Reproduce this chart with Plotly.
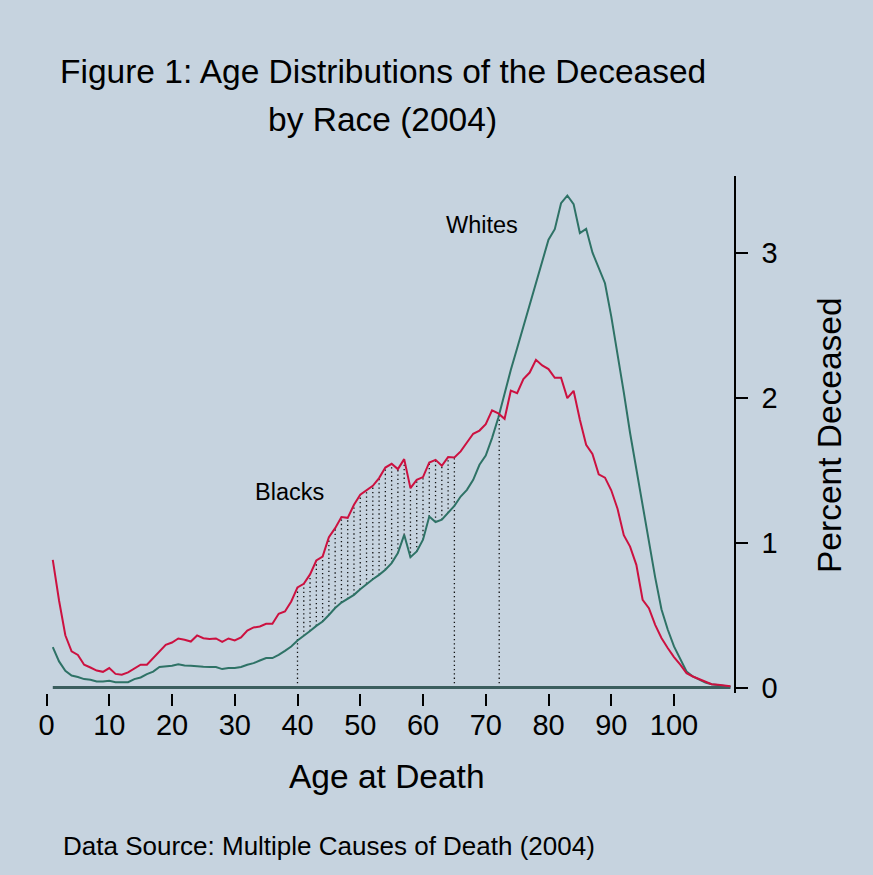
import numpy as np
import plotly.graph_objects as go

# Age at death (years)
ages = list(range(1, 110))

# Percent of deceased at each age, 2004
blacks = [
    0.88, 0.60, 0.36, 0.25, 0.225, 0.157, 0.138, 0.117, 0.108, 0.134,
    0.094, 0.088, 0.104, 0.129, 0.157, 0.157, 0.203, 0.248, 0.294, 0.31,
    0.338, 0.329, 0.317, 0.359, 0.34, 0.334, 0.338, 0.315, 0.338, 0.324,
    0.345, 0.393, 0.414, 0.421, 0.439, 0.439, 0.508, 0.524, 0.593, 0.69,
    0.715, 0.78, 0.876, 0.903, 1.037, 1.099, 1.175, 1.170, 1.26, 1.329,
    1.363, 1.391, 1.444, 1.517, 1.543, 1.506, 1.575, 1.375, 1.432, 1.451,
    1.552, 1.570, 1.529, 1.589, 1.586, 1.628, 1.69, 1.75, 1.772, 1.816,
    1.912, 1.89, 1.853, 2.048, 2.030, 2.127, 2.172, 2.26, 2.221, 2.196,
    2.136, 2.136, 1.996, 2.046, 1.846, 1.674, 1.61, 1.47, 1.447, 1.36,
    1.233, 1.05, 0.972, 0.846, 0.605, 0.547, 0.432, 0.341, 0.272, 0.21,
    0.157, 0.099, 0.076, 0.058, 0.041, 0.023, 0.019, 0.012, 0.008,
]
whites = [
    0.279, 0.18, 0.115, 0.083, 0.072, 0.058, 0.053, 0.041, 0.041, 0.046,
    0.037, 0.035, 0.037, 0.058, 0.069, 0.092, 0.11, 0.141, 0.145, 0.15,
    0.161, 0.152, 0.15, 0.145, 0.143, 0.141, 0.141, 0.127, 0.134, 0.134,
    0.141, 0.157, 0.168, 0.186, 0.203, 0.203, 0.225, 0.253, 0.283, 0.324,
    0.355, 0.39, 0.425, 0.455, 0.50, 0.548, 0.586, 0.61, 0.639, 0.678,
    0.715, 0.747, 0.777, 0.812, 0.858, 0.927, 1.053, 0.899, 0.938, 1.019,
    1.179, 1.141, 1.157, 1.203, 1.253, 1.317, 1.363, 1.432, 1.536, 1.60,
    1.72, 1.86, 2.03, 2.191, 2.34, 2.49, 2.639, 2.789, 2.95, 3.088,
    3.161, 3.34, 3.393, 3.334, 3.134, 3.163, 3.0, 2.90, 2.788, 2.56,
    2.31, 2.035, 1.755, 1.50, 1.24, 0.99, 0.76, 0.54, 0.40, 0.283,
    0.20, 0.11, 0.076, 0.053, 0.034, 0.023, 0.017, 0.010, 0.006,
]

x_ticks = list(range(0, 101, 10))
y_ticks = [0, 1, 2, 3]

# Ages bounding the shaded (excess black mortality) band
band_start, band_end = 40, 65

BG = "#C6D3DF"
RED = "#CC1140"
GREEN = "#2E7266"
BASE = "#3B5E5E"
FONT = "Liberation Sans, Arial, Helvetica, sans-serif"

W, H = 873, 875
ML, MR, MT, MB = 43, 139, 176, 182
PW, PH = W - ML - MR, H - MT - MB


def px_x(px):
    return (px - ML) / PW


def px_y(py):
    return (H - MB - py) / PH


a = np.array(ages, dtype=float)
b = np.array(blacks)
w = np.array(whites)

# Dotted spikes between the two curves across the band; the two end spikes
# run down to zero.
sx, sy = [], []
for age in range(band_start, band_end + 1):
    i = ages.index(age)
    lo = 0.0 if age in (band_start, band_end) else w[i]
    sx += [age, age, None]
    sy += [lo, b[i], None]

# Age where the white curve first overtakes the black one after the band
diff = w - b
cross_age, cross_val = None, None
for i in range(ages.index(band_end), len(ages) - 1):
    if diff[i] < 0 <= diff[i + 1]:
        t = -diff[i] / (diff[i + 1] - diff[i])
        cross_age = a[i] + t * (a[i + 1] - a[i])
        cross_val = w[i] + t * (w[i + 1] - w[i])
        break
sx += [cross_age, cross_age, None]
sy += [0.0, cross_val, None]

fig = go.Figure()
fig.add_trace(go.Scatter(
    x=sx, y=sy, mode="lines",
    line=dict(color="#111111", width=1.3, dash="1.3px,3px"),
    hoverinfo="skip", showlegend=False,
))
fig.add_trace(go.Scatter(
    x=ages, y=[0] * len(ages), mode="lines",
    line=dict(color=BASE, width=3), showlegend=False, hoverinfo="skip",
))
fig.add_trace(go.Scatter(
    x=ages, y=whites, mode="lines", name="Whites",
    line=dict(color=GREEN, width=2), showlegend=False,
))
fig.add_trace(go.Scatter(
    x=ages, y=blacks, mode="lines", name="Blacks",
    line=dict(color=RED, width=2), showlegend=False,
))

x0 = -(46.5 - ML) / 6.275
fig.update_xaxes(
    range=[x0, x0 + PW / 6.275],
    tickvals=x_ticks, ticks="outside", ticklen=12, tickwidth=1.5,
    tickcolor="black", showline=False, showgrid=False, zeroline=False,
    ticklabelstandoff=-6,
    tickfont=dict(family=FONT, size=29, color="black"),
)
y0 = -(693 - 687.5) / 145
fig.update_yaxes(
    range=[y0, y0 + PH / 145],
    side="right", tickvals=y_ticks, ticks="outside", ticklen=12,
    tickwidth=1.5, tickcolor="black", showline=True, linecolor="black",
    linewidth=1.5, showgrid=False, zeroline=False,
    ticklabelstandoff=8,
    tickfont=dict(family=FONT, size=29, color="black"),
)

annotations = [
    dict(text="Figure 1: Age Distributions of the Deceased",
         x=px_x(383), y=px_y(72), size=33.5),
    dict(text="by Race (2004)", x=px_x(382), y=px_y(119), size=33.5),
    dict(text="Age at Death", x=px_x(387), y=px_y(776), size=33.5),
    dict(text="Whites", x=px_x(482.5), y=px_y(225), size=23.5),
    dict(text="Blacks", x=px_x(289.7), y=px_y(492), size=23.5),
]
anns = []
for an in annotations:
    anns.append(dict(
        text=an["text"], x=an["x"], y=an["y"], xref="paper", yref="paper",
        xanchor="center", yanchor="middle", showarrow=False,
        font=dict(family=FONT, size=an["size"], color="black"),
    ))
anns.append(dict(
    text="Data Source: Multiple Causes of Death (2004)",
    x=px_x(60.6), y=px_y(846), xref="paper", yref="paper",
    xanchor="left", yanchor="middle", showarrow=False,
    font=dict(family=FONT, size=26, color="black"),
))
anns.append(dict(
    text="Percent Deceased", x=px_x(829), y=px_y(435),
    xref="paper", yref="paper", xanchor="center", yanchor="middle",
    textangle=-90, showarrow=False,
    font=dict(family=FONT, size=33.5, color="black"),
))

fig.update_layout(
    width=W, height=H,
    margin=dict(l=ML, r=MR, t=MT, b=MB),
    paper_bgcolor=BG, plot_bgcolor=BG,
    annotations=anns,
    showlegend=False,
)

fig.write_html("out.html")
